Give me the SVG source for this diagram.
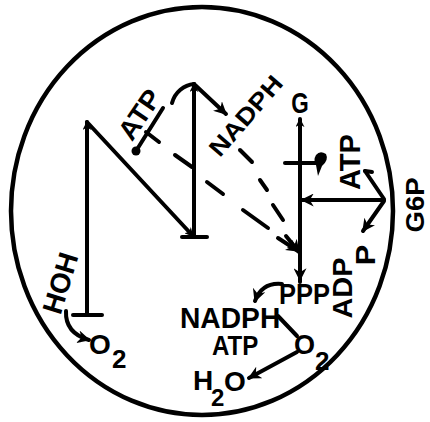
<svg xmlns="http://www.w3.org/2000/svg" width="430" height="422" viewBox="0 0 430 422">
<style>
.ln{stroke:#000;stroke-width:4;fill:none;stroke-linecap:round;stroke-linejoin:round}
.t{font-family:"Liberation Sans",Arial,sans-serif;font-weight:bold;fill:#000}
</style>
<defs>
<marker id="ah" viewBox="0 0 10 10" refX="9" refY="5" markerWidth="13" markerHeight="13" markerUnits="userSpaceOnUse" orient="auto"><path d="M0,0 L10,5 L0,10 L3,5 z" fill="#000"/></marker>
<marker id="as" viewBox="0 0 10 10" refX="9" refY="5" markerWidth="9" markerHeight="9" markerUnits="userSpaceOnUse" orient="auto"><path d="M0,0 L10,5 L0,10 L3,5 z" fill="#000"/></marker>
</defs>
<rect width="430" height="422" fill="#fff"/>
<ellipse cx="202" cy="211" rx="191" ry="204" fill="none" stroke="#000" stroke-width="4.5"/>
<g id="connectors">
<line class="ln" x1="87" y1="315" x2="87" y2="122" marker-end="url(#as)"/>
<line class="ln" x1="73" y1="315" x2="102" y2="315" stroke-width="5"/>
<line class="ln" x1="87" y1="122" x2="193" y2="236" marker-end="url(#as)"/>
<line class="ln" x1="182" y1="237" x2="207" y2="237" stroke-width="5"/>
<line class="ln" x1="194" y1="237" x2="194" y2="84" marker-end="url(#as)"/>
<line class="ln" x1="194" y1="84" x2="226" y2="114" marker-end="url(#ah)"/>
<path class="ln" d="M172,103 C175,92 184,85 194,84"/>
<line class="ln" x1="175" y1="155" x2="192" y2="167"/>
<line class="ln" x1="163" y1="108" x2="136" y2="151"/>
<circle cx="136" cy="151" r="4.5" fill="#000"/>
<line class="ln" x1="146" y1="132" x2="159" y2="142"/>
<line class="ln" x1="207" y1="182" x2="223" y2="194"/>
<line class="ln" x1="243" y1="210" x2="268" y2="228"/>
<line class="ln" x1="278" y1="238" x2="298" y2="251" marker-end="url(#ah)"/>
<line class="ln" x1="240" y1="150" x2="252" y2="162"/>
<line class="ln" x1="260" y1="180" x2="267" y2="190"/>
<line class="ln" x1="273" y1="205" x2="283" y2="220"/>
<line class="ln" x1="286" y1="236" x2="299" y2="252" marker-end="url(#ah)"/>
<line class="ln" x1="300" y1="282" x2="300" y2="160"/>
<line class="ln" x1="300" y1="160" x2="300" y2="119" marker-end="url(#as)"/>
<line class="ln" x1="300" y1="250" x2="300" y2="280" marker-end="url(#ah)"/>
<line class="ln" x1="285" y1="163" x2="317" y2="163"/>
<path d="M316,155 Q320,150 326,154 Q329,160 322,166 L318,176 L316,165 Q313,160 316,155 z" fill="#000"/>
<line class="ln" x1="384" y1="200" x2="302" y2="200" marker-end="url(#ah)"/>
<line class="ln" x1="384" y1="199" x2="365" y2="171"/>
<line class="ln" x1="365" y1="171" x2="372" y2="172"/>
<line class="ln" x1="384" y1="201" x2="363" y2="231" marker-end="url(#ah)"/>
<path class="ln" d="M282,284 Q262,282 255,301" marker-end="url(#ah)"/>
<line class="ln" x1="278" y1="316" x2="297" y2="336"/>
<line class="ln" x1="297" y1="352" x2="249" y2="378" marker-end="url(#ah)"/>
<path class="ln" d="M66,311 Q65,333 89,340" marker-end="url(#ah)"/>
</g>
<g id="n-G"><text class="t" transform="translate(300,113) scale(0.75,1)" font-size="30" text-anchor="middle">G</text></g>
<g id="n-ATP-right"><text class="t" transform="translate(360,162) rotate(-90)" font-size="29" text-anchor="middle">ATP</text></g>
<g id="n-G6P"><text class="t" transform="translate(424,205) rotate(-90) scale(1.1,1)" font-size="25" text-anchor="middle">G6P</text></g>
<g id="n-ADP"><text class="t" transform="translate(352,288) rotate(-90) scale(1.07,1)" font-size="27" text-anchor="middle">ADP</text></g>
<g id="n-P"><text class="t" transform="translate(375,255) rotate(-90) scale(1.1,1)" font-size="28" text-anchor="middle">P</text></g>
<g id="n-PPP"><text class="t" transform="translate(279,304) scale(0.88,1)" font-size="29">PPP</text></g>
<g id="n-NADPH"><text class="t" transform="translate(180,328) scale(0.94,1)" font-size="30">NADPH</text></g>
<g id="n-ATP"><text class="t" transform="translate(212,355) scale(0.86,1)" font-size="28">ATP</text></g>
<g id="n-H2O"><text class="t" font-size="28"><tspan x="193" y="390">H</tspan><tspan x="211" y="406" font-size="24">2</tspan><tspan x="224" y="391">O</tspan></text></g>
<g id="n-O2-right"><text class="t" font-size="27"><tspan x="294" y="354">O</tspan><tspan x="315" y="370" font-size="26">2</tspan></text></g>
<g id="n-O2-left"><text class="t" font-size="28"><tspan x="89" y="354">O</tspan><tspan x="112" y="368" font-size="26">2</tspan></text></g>
<g id="n-HOH"><text class="t" transform="translate(60,283) rotate(-73)" y="10" font-size="28" text-anchor="middle">HOH</text></g>
<g id="n-ATP-left"><text class="t" transform="translate(139,114) rotate(-56) scale(1.05,1)" y="10" font-size="27" text-anchor="middle">ATP</text></g>
<g id="n-NADPH-diag"><text class="t" transform="translate(246,116) rotate(-49) scale(1.15,1)" y="8" font-size="24" text-anchor="middle">NADPH</text></g>
</svg>
